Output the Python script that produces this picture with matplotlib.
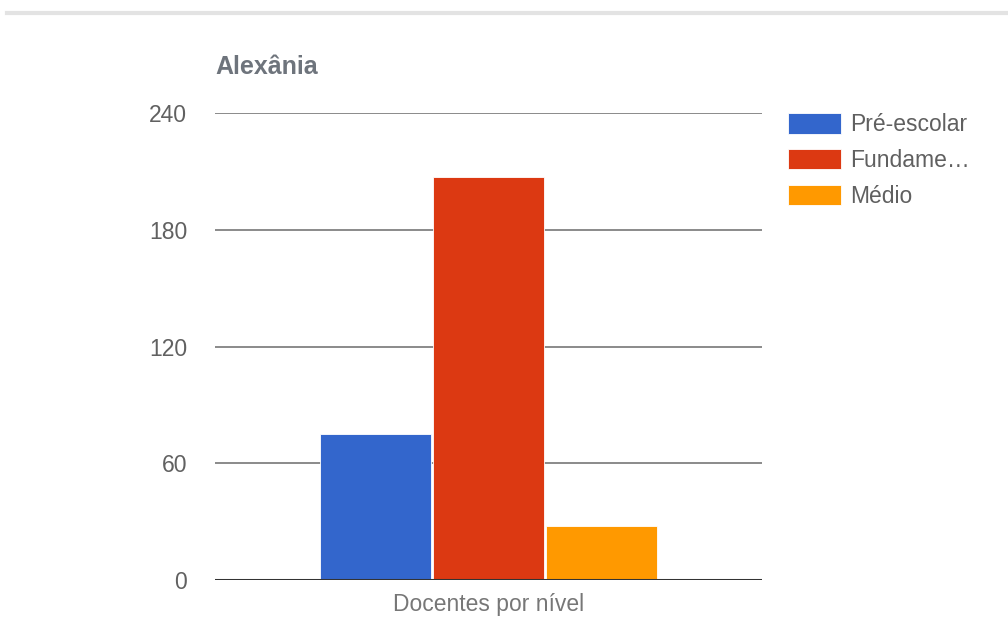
import numpy as np
import matplotlib.pyplot as plt
from matplotlib.lines import Line2D

# Docentes por nível - Alexânia
niveis = ['Pré-escolar', 'Fundame…', 'Médio']
docentes = [75, 207, 28]
cores = ['#3366cc', '#dc3912', '#ff9900']
yticks = [0, 60, 120, 180, 240]

plt.rcParams['font.family'] = ['Liberation Sans', 'DejaVu Sans']

fig = plt.figure(figsize=(10.08, 6.2), dpi=100)
ax = fig.add_axes([215/1008, 40/620, (762-215)/1008, (580-113)/620])

x = np.arange(len(niveis)) - 1
bars = ax.bar(x, docentes, width=0.975, color=cores, edgecolor='white',
              linewidth=0.6, zorder=3, label=niveis)

ax.set_ylim(0, 240)
ax.set_xlim(-2.42, 2.42)
ax.set_yticks(yticks)
ax.set_xticks([])
ax.tick_params(axis='y', length=0, pad=20, labelsize=16.5, labelcolor='#616161')
ax.yaxis.grid(True, color='#8a8a8a', linewidth=1.4, zorder=0)
ax.axhline(0, color='#333333', linewidth=2.2, zorder=4)
for s in ax.spines.values():
    s.set_visible(False)

ax.set_xlabel('Docentes por nível', fontsize=16.5, color='#777777', labelpad=9)

fig.text(215/1008, 1 - 67/620, 'Alexânia', fontsize=18, fontweight='bold',
         color='#6e747c', va='center', ha='left')

leg = ax.legend(bars, niveis, loc='upper left', frameon=False,
                bbox_to_anchor=(788/1008, 1 - 113/620), bbox_transform=fig.transFigure,
                borderpad=0, borderaxespad=0, handlelength=2.3, handleheight=1.0,
                handletextpad=0.4, labelspacing=0.56, fontsize=16.5)
for t in leg.get_texts():
    t.set_color('#606060')

# top separator strip
fig.add_artist(Line2D([7/1008, 1], [1 - 13/620, 1 - 13/620], color='#e3e3e3',
                      linewidth=3, transform=fig.transFigure))

fig.savefig('out.png', dpi=100)
